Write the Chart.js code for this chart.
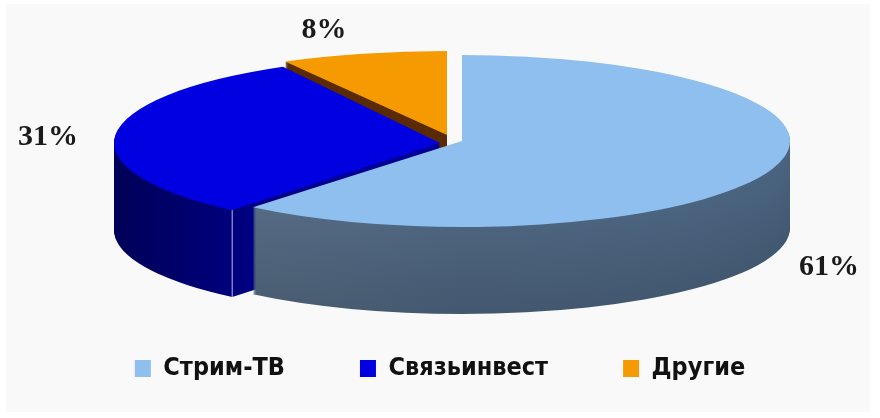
<!DOCTYPE html>
<html><head><meta charset="utf-8">
<script src="https://cdn.jsdelivr.net/npm/chart.js@4"></script>
<style>html,body{margin:0;padding:0;background:#fff}#w{position:absolute;left:0;top:0;width:880px;height:418px}</style>
</head><body><div id="w"><canvas id="c" width="880" height="418"></canvas></div>
<script>
const categories = ['Стрим-ТВ', 'Связьинвест', 'Другие'];
const shares = [61, 31, 8];
const topColors = ['#8fbfee', '#0000e0', '#f59a00'];

// pie geometry for each slice: centre and ellipse radii on the page, extrusion depth
const sliceGeom = [
  {cx:462, cy:141, rx:328, ry:86},
  {cx:440, cy:143, rx:326, ry:87},
  {cx:447, cy:135, rx:336, ry:84}
];
const DEPTH = 87, UNIT = 100;
const wallStops = [
  [[0,'#5a6f86'],[0.5,'#4d647e'],[1,'#4a6480']],
  [[0,'#000058'],[0.2,'#000080'],[0.36,'#000096'],[1,'#000096']],
  [[0,'#5a2a05'],[1,'#5a2a05']]
];
function shade(hex,k){const n=parseInt(hex.slice(1),16);
  return 'rgb('+[(n>>16)&255,(n>>8)&255,n&255].map(v=>Math.round(v*k)).join(',')+')';}

const pie3d = {
  id:'pie3d',
  beforeDraw(chart){
    const ctx=chart.ctx; ctx.save();
    ctx.fillStyle='#fff'; ctx.fillRect(0,0,880,418);
    ctx.fillStyle='#f9f9f9'; ctx.fillRect(6,4,864,408);
    ctx.restore();
  },
  beforeDatasetsDraw(chart){
    const ctx=chart.ctx, arcs=chart.getDatasetMeta(0).data;
    [2,1,0].forEach(i=>{
      const a=arcs[i], g=sliceGeom[i];
      for(let d=DEPTH;d>=1;d--){
        ctx.save();
        ctx.translate(g.cx,g.cy+d);
        ctx.scale(g.rx/a.outerRadius,g.ry/a.outerRadius);
        const grad=ctx.createLinearGradient(-a.outerRadius,0,a.outerRadius,0);
        const k=1-0.12*(i===0?d/DEPTH:0);
        wallStops[i].forEach(s=>grad.addColorStop(s[0],shade(s[1],k)));
        ctx.fillStyle=grad;
        ctx.beginPath();ctx.moveTo(0,0);
        ctx.arc(0,0,a.outerRadius,a.startAngle,a.endAngle);
        ctx.closePath();ctx.fill();
        ctx.restore();
      }
      if(i===1){ // thin pale seam where the slice's outer wall meets its cut face
        const sx=g.cx+Math.cos(a.startAngle)*g.rx, sy=g.cy+Math.sin(a.startAngle)*g.ry;
        ctx.save();ctx.strokeStyle='#b8b8f0';ctx.lineWidth=1;
        ctx.beginPath();ctx.moveTo(sx,sy);ctx.lineTo(sx,sy+DEPTH);ctx.stroke();ctx.restore();
      }
      ctx.save();
      ctx.translate(g.cx,g.cy);
      ctx.scale(g.rx/a.outerRadius,g.ry/a.outerRadius);
      ctx.translate(-a.x,-a.y);
      a.draw(ctx);
      ctx.restore();
    });
    return false;
  },
  afterDraw(chart){
    const ctx=chart.ctx;
    ctx.save();
    ctx.font='bold 30px "Liberation Serif"';
    ctx.fillStyle='#1a1a1a';ctx.textAlign='center';ctx.textBaseline='alphabetic';
    const at=[[829,275],[48,145],[324,38]];
    shares.forEach((v,i)=>ctx.fillText(v+'%',at[i][0],at[i][1]));
    ctx.restore();
  }
};

new Chart(document.getElementById('c'),{
  type:'pie',
  data:{labels:categories,datasets:[{data:shares,backgroundColor:topColors,borderWidth:0,radius:UNIT}]},
  plugins:[pie3d],
  options:{
    responsive:false,animation:false,
    layout:{padding:{bottom:27}},
    plugins:{
      tooltip:{enabled:false},
      legend:{display:true,position:'bottom',
        labels:{boxWidth:16,boxHeight:17,padding:75,color:'#111',
          font:{family:'"DejaVu Sans Condensed","DejaVu Sans"',size:25,weight:'bold'}}}
    }
  }
});
</script></body></html>
